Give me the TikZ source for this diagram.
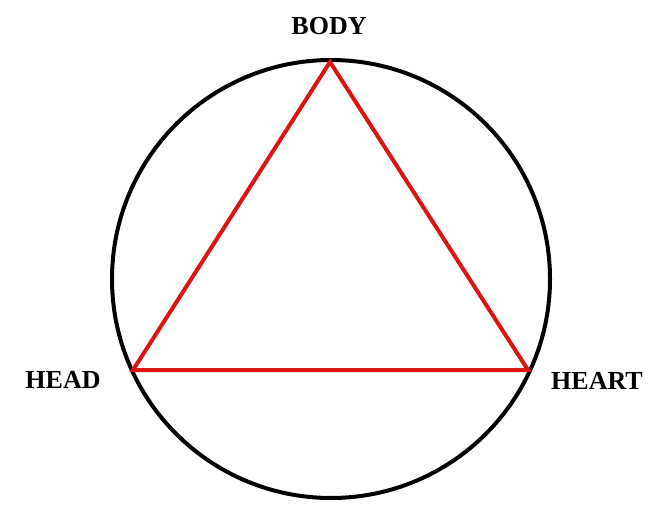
\documentclass[tikz,border=0pt]{standalone}
\usepackage{fontspec}
\setmainfont{Liberation Serif}
\begin{document}
\begin{tikzpicture}[x=1pt,y=-1pt,
  lbl/.style={font=\fontsize{26}{26}\selectfont\bfseries, inner sep=0pt},
  ring/.style={draw=black, line width=4pt},
  tri/.style={draw={rgb,255:red,220;green,20;blue,20}, line width=4pt, line join=miter}]
\useasboundingbox (0,0) rectangle (653,519);
\coordinate (c) at (331,279);
\draw[ring] (c) circle[radius=219];
\coordinate (top) at (330,62);
\coordinate (left) at (133,370);
\coordinate (right) at (528,370);
\draw[tri] (top) -- (left) -- (right) -- cycle;
\node[lbl] (body) at (329,26) {BODY};
\node[lbl] (head) at (63,380) {HEAD};
\node[lbl] (heart) at (597,381) {HEART};
\end{tikzpicture}
\end{document}
